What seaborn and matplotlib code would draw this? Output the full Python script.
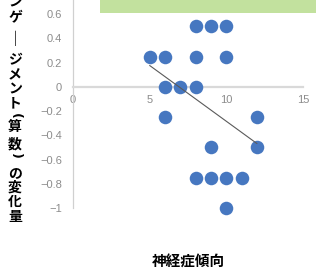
import numpy as np
import pandas as pd
import seaborn as sns
import matplotlib.pyplot as plt
from matplotlib.patches import Rectangle
from matplotlib.ticker import FuncFormatter

# datos
neuroticismo = [5, 6, 8, 9, 10, 8, 10, 6, 7, 8, 6, 12, 9, 12, 8, 9, 10, 11, 10]
cambio = [0.25, 0.25, 0.5, 0.5, 0.5, 0.25, 0.25, 0, 0, 0, -0.25, -0.25,
          -0.5, -0.5, -0.75, -0.75, -0.75, -0.75, -1]
x_ticks = [0, 5, 10, 15]
y_ticks = [-1, -0.8, -0.6, -0.4, -0.2, 0, 0.2, 0.4, 0.6]
x_label = "神経症傾向"
y_label = "ンゲージメント（算数）の変化量"

df = pd.DataFrame({"x": neuroticismo, "y": cambio})

sns.set_style("white")
plt.rcParams["font.family"] = ["Noto Sans CJK JP", "DejaVu Sans"]

W, H = 316, 270
fig = plt.figure(figsize=(W / 100, H / 100), dpi=100)
ax = fig.add_axes([73 / W, 1 - 208 / H, 230 / W, 218 / H])

sns.regplot(x="x", y="y", data=df, ax=ax, ci=None, truncate=True,
            scatter_kws={"s": 95, "color": "#4677c0", "linewidths": 0,
                         "alpha": 1, "clip_on": False, "zorder": 3},
            line_kws={"color": "#5a5a5a", "lw": 0.8, "zorder": 4})

ax.set_xticks(x_ticks)
ax.set_yticks(y_ticks)
ax.set_xlim(0, 15)
ax.set_ylim(-1, 0.8)
fmt = FuncFormatter(lambda v, p: ("%g" % round(v, 2)).replace("-", "\u2212"))
ax.yaxis.set_major_formatter(fmt)
ax.xaxis.set_major_formatter(fmt)

ax.spines["top"].set_visible(False)
ax.spines["right"].set_visible(False)
ax.spines["bottom"].set_position(("data", 0))
ax.spines["bottom"].set_color("#d9d9d9")
ax.spines["bottom"].set_linewidth(1.6)
ax.spines["left"].set_color("#d0d0d0")
ax.spines["left"].set_linewidth(0.9)
ax.tick_params(length=0, labelsize=8, labelcolor="#8c8c8c")
ax.tick_params(axis="y", pad=8)
ax.tick_params(axis="x", pad=6)
for t in ax.get_xticklabels() + ax.get_yticklabels():
    t.set_family(["Liberation Sans", "DejaVu Sans"])
ax.set_xlabel("")
ax.set_ylabel("")

# etiqueta del eje x
fig.text(188 / W, 1 - 262 / H, x_label, ha="center", va="center",
         fontsize=10.5, fontweight="bold", color="black")

# etiqueta vertical del eje y (recortada arriba), carácter por carácter
ypos = [2, 18, 39, 60, 75, 89, 103, 116, 127, 145, 156, 173, 188, 202, 217]
for c, yp in zip(y_label, ypos):
    if c in "（）":
        fig.text(15 / W, 1 - yp / H, "(" if c == "（" else ")",
                 ha="center", va="center", rotation=270,
                 fontsize=9, fontweight="bold", color="black",
                 family=["DejaVu Sans"])
    elif c == "ー":
        fig.text(15 / W, 1 - yp / H, "｜", ha="center", va="center",
                 fontsize=11, fontweight="bold", color="black")
    else:
        fig.text(15 / W, 1 - yp / H, c, ha="center", va="center",
                 fontsize=10, fontweight="bold", color="black")

# recuadro verde superior
fig.patches.append(Rectangle((100 / W, 1 - 13 / H), 1, 13 / H,
                             transform=fig.transFigure, facecolor="#c2e19e",
                             edgecolor="none"))

fig.savefig("out.png", dpi=100)
